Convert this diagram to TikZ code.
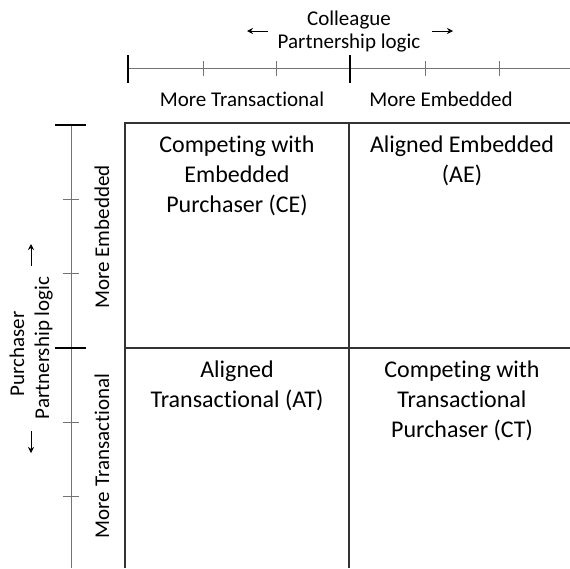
\documentclass[tikz,border=0pt]{standalone}
\usepackage{fontspec}
\setmainfont{Carlito}[Ligatures={NoCommon}]
\usetikzlibrary{arrows.meta}
\begin{document}
\begin{tikzpicture}[x=1pt,y=-1pt,
  axisline/.style={draw=black!55,line width=0.8pt},
  majortick/.style={draw=black,line width=1.6pt},
  minortick/.style={draw=black!55,line width=0.8pt},
  boxline/.style={draw=black!80,line width=1.6pt},
  axlabel/.style={font=\fontsize{21}{24}\selectfont,inner sep=0pt,anchor=base},
  quadtext/.style={font=\fontsize{24}{30}\selectfont,align=center,inner sep=0pt,anchor=base},
  dirarrow/.style={-{Stealth[length=6pt,width=6pt]},line width=0.8pt,draw=black}]
\useasboundingbox (0,0) rectangle (570,568);
% top axis
\coordinate (tl) at (128,68);
\coordinate (tr) at (570,68);
\draw[axisline] (tl) -- (tr);
\foreach \x in {128,350} \draw[majortick] (\x,55) -- (\x,83);
\foreach \x in {203,276,425,499} \draw[minortick] (\x,61) -- (\x,76);
\node[axlabel] (mt) at (242,106.5) {More Transactional};
\node[axlabel] (me) at (441,106.5) {More Embedded};
\node[axlabel] (col) at (349,25) {Colleague};
\node[axlabel] (cpl) at (349,48.5) {Partnership logic};
\coordinate (la1) at (268,31); \coordinate (la2) at (247,31);
\coordinate (ra1) at (432,31); \coordinate (ra2) at (453,31);
\draw[dirarrow] (la1) -- (la2);
\draw[dirarrow] (ra1) -- (ra2);
% left axis
\coordinate (lt) at (71,125);
\coordinate (lb) at (71,568);
\draw[axisline] (lt) -- (lb);
\foreach \y in {125,348} \draw[majortick] (55,\y) -- (86,\y);
\foreach \y in {199,273,422,496} \draw[minortick] (63,\y) -- (79,\y);
\node[axlabel,rotate=90] (lme) at (109,237) {More Embedded};
\node[axlabel,rotate=90] (lmt) at (109,456) {More Transactional};
\node[axlabel,rotate=90] (pur) at (24,354) {Purchaser};
\node[axlabel,rotate=90] (ppl) at (49,348) {Partnership logic};
\coordinate (ua1) at (31,266); \coordinate (ua2) at (31,244);
\coordinate (da1) at (31,431); \coordinate (da2) at (31,453);
\draw[dirarrow] (ua1) -- (ua2);
\draw[dirarrow] (da1) -- (da2);
% quadrant box
\coordinate (b1) at (125,568);
\coordinate (b2) at (125,123);
\coordinate (b3) at (570,123);
\draw[boxline] (b1) -- (b2) -- (b3);
\draw[boxline] (349,123) -- (349,568);
\draw[boxline] (125,348) -- (570,348);
% quadrant texts (anchor=base is the last line's baseline)
\node[quadtext] (ce) at (237,212) {Competing with\\Embedded\\Purchaser (CE)};
\node[quadtext] (ae) at (462,182) {Aligned Embedded\\(AE)};
\node[quadtext] (at) at (237,407) {Aligned\\Transactional (AT)};
\node[quadtext] (ct) at (462,437) {Competing with\\Transactional\\Purchaser (CT)};
\end{tikzpicture}
\end{document}
